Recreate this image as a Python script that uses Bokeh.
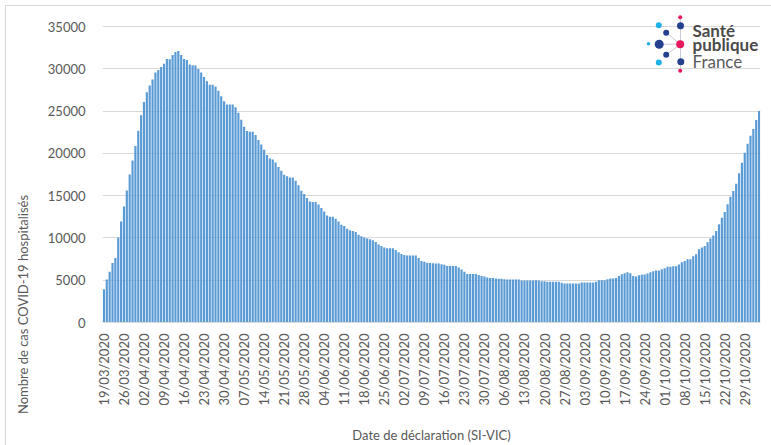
import math
import pandas as pd
from bokeh.plotting import figure
from bokeh.models import Range1d, FixedTicker, Label, ColumnDataSource, InlineStyleSheet
from bokeh.embed import file_html
from bokeh.resources import INLINE

# ---- data: current COVID-19 hospitalisations (SI-VIC), daily, from 19/03/2020
mar = [3940, 5080, 5990, 7050, 7640, 10050, 11940, 13710, 15600, 17490, 19150, 20880, 22660]
apr = [24510, 26080, 27230, 28010, 28720, 29550, 29870, 30220, 30610, 31170, 31130, 31640, 31990,
       32110, 31640, 31170, 31050, 30500, 30420, 30380, 29980, 29550, 29040, 28530, 28120, 28120,
       27920, 27410, 26750, 26160]
may = [25770, 25770, 25770, 25450, 24790, 23960, 23140, 22630, 22550, 22550, 22160, 21570, 21060,
       20430, 19810, 19380, 19260, 18910, 18400, 17930, 17460, 17300, 17140, 17140, 16750, 16240,
       15570, 15180, 14710, 14320, 14240]
jun = [14240, 13950, 13550, 13120, 12660, 12500, 12500, 12270, 11950, 11560, 11410, 11090, 10900,
       10820, 10700, 10390, 10200, 10040, 9920, 9840, 9730, 9530, 9220, 9060, 8870, 8790, 8790,
       8790, 8560, 8320]
jul = [8090, 7970, 7930, 7930, 7930, 7930, 7620, 7270, 7190, 7050, 7050, 7020, 6980, 6980, 6900,
       6820, 6670, 6670, 6670, 6670, 6510, 6280, 6010, 5740, 5740, 5740, 5740, 5620, 5500, 5430, 5310]
aug = [5270, 5270, 5190, 5160, 5160, 5120, 5080, 5080, 5080, 5080, 5080, 4960, 4960, 4960, 4960,
       4960, 5000, 4960, 4880, 4880, 4810, 4810, 4810, 4810, 4810, 4690, 4610, 4610, 4610, 4610, 4610]
sep = [4610, 4730, 4730, 4730, 4730, 4730, 4810, 5000, 5000, 5000, 5120, 5190, 5190, 5270, 5500,
       5700, 5810, 5930, 5810, 5500, 5430, 5580, 5650, 5670, 5790, 5940, 6060, 6140, 6140, 6300]
oct_ = [6420, 6580, 6580, 6650, 6650, 6850, 7130, 7280, 7480, 7480, 7830, 8070, 8660, 8860, 9050,
        9490, 9920, 10280, 10830, 11610, 12400, 13070, 13980, 14880, 15550, 16420, 17640, 18900,
        20080, 21140, 22090]
nov = [22870, 23940, 25000]

values = mar + apr + may + jun + jul + aug + sep + oct_ + nov
dates = pd.date_range("2020-03-19", periods=len(values), freq="D")
date_labels = [d.strftime("%d/%m/%Y") for d in dates]
tick_idx = list(range(0, len(values), 7))
y_ticks = [0, 5000, 10000, 15000, 20000, 25000, 30000, 35000]

y_title = "Nombre de cas COVID-19 hospitalisés"
x_title = "Date de déclaration (SI-VIC)"

FONT = "Lato"
TXT = "#595959"
GRID = "#d9d9d9"
BAR = "#5b9bd5"

# ---- layout
W, H = 771, 445
FL, FR, FT, FB = 102, 760, 8, 322    # frame edges inside figure
Y_TOP_PX = 26                        # where 35000 sits
n = len(values)
y_end = 35000 * (FB - FT) / (FB - Y_TOP_PX)

p = figure(width=W, height=H, output_backend="svg", toolbar_location=None,
           x_range=Range1d(-0.5, n - 0.5), y_range=Range1d(0, y_end),
           min_border_left=FL, min_border_right=W - FR, min_border_top=FT,
           min_border_bottom=H - FB)
p.outline_line_color = None
p.background_fill_color = "white"
p.border_fill_color = "white"
p.stylesheets = [InlineStyleSheet(css=(
    ":host { overflow: hidden; }"
    ":host::after { content: ''; position: absolute; left: 5px; top: 5px; right: -4px;"
    " bottom: -4px; border: 1px solid #d9d9d9; pointer-events: none; }"))]

src = ColumnDataSource(dict(x=list(range(n)), top=values, date=date_labels))
p.vbar(x="x", top="top", width=0.76, source=src, fill_color=BAR, line_color=None)

# axes
xa = p.xaxis[0]
xa.ticker = FixedTicker(ticks=tick_idx)
xa.major_label_overrides = {i: date_labels[i] for i in tick_idx}
xa.major_label_orientation = math.pi / 2
xa.major_tick_line_color = None
xa.minor_tick_line_color = None
xa.axis_line_color = GRID
xa.major_label_text_font = FONT
xa.major_label_text_font_size = "13px"
xa.major_label_text_color = TXT
xa.major_label_standoff = 5
xa.axis_label = x_title
xa.axis_label_text_font = FONT
xa.axis_label_text_font_size = "13px"
xa.axis_label_text_font_style = "normal"
xa.axis_label_text_color = TXT
xa.axis_label_standoff = 18

ya = p.yaxis[0]
ya.ticker = FixedTicker(ticks=y_ticks)
ya.axis_line_color = None
ya.major_tick_line_color = None
ya.minor_tick_line_color = None
ya.major_label_text_font = FONT
ya.major_label_text_font_size = "13px"
ya.major_label_text_color = TXT
ya.major_label_standoff = 11

p.xgrid.grid_line_color = None
p.ygrid.grid_line_color = GRID
p.ygrid.grid_line_width = 1

# y-axis title, placed in canvas pixels
p.add_layout(Label(x=22, y=304, x_units="canvas", y_units="canvas", text=y_title,
                   angle=math.pi / 2, text_align="center", text_baseline="middle",
                   text_font=FONT, text_font_size="13px", text_color=TXT), "left")


# helpers: canvas pixel -> data coordinates (logo decoration)
def fx(px):
    return -0.5 + (px - FL) * n / (FR - FL)


def fy(py):
    return (FB - py) * y_end / (FB - FT)


# ---- Santé publique France logo (decoration)
NAVY, CYAN, PINK, LINE = "#24408e", "#1eb1e7", "#e6195f", "#c9ccd6"
cx, cy = 680, 43.7
for (ex, ey) in [(680, 16.7), (680, 70.3), (658.7, 43.7), (665.7, 32.3), (665.7, 54.3)]:
    p.line([fx(cx), fx(ex)], [fy(cy), fy(ey)], line_color=LINE, line_width=1)
dots = [
    (679.7, 16.7, 4, PINK), (658.3, 24.7, 6, CYAN), (680, 25.3, 7, NAVY),
    (665.7, 32.3, 6, NAVY), (658.7, 43.7, 9, NAVY), (648, 43.3, 3.5, CYAN),
    (679.7, 43.7, 8, PINK), (665.7, 54.3, 6, NAVY), (658.3, 62, 6, CYAN),
    (680.3, 61.3, 7, NAVY), (679.7, 70.3, 4, PINK),
]
p.scatter([fx(d[0]) for d in dots], [fy(d[1]) for d in dots], size=[d[2] for d in dots],
          fill_color=[d[3] for d in dots], line_color=None, marker="circle")
for txt, ty, style, col in [("Santé", 29.5, "bold", "#4a4a4a"), ("publique", 44, "bold", "#4a4a4a"),
                            ("France", 61, "normal", "#5a5a5a")]:
    p.add_layout(Label(x=fx(692), y=fy(ty), text=txt, text_align="left", text_baseline="middle",
                       text_font=FONT, text_font_size="17px", text_font_style=style,
                       text_color=col))

open("out.html", "w").write(file_html(p, INLINE))
